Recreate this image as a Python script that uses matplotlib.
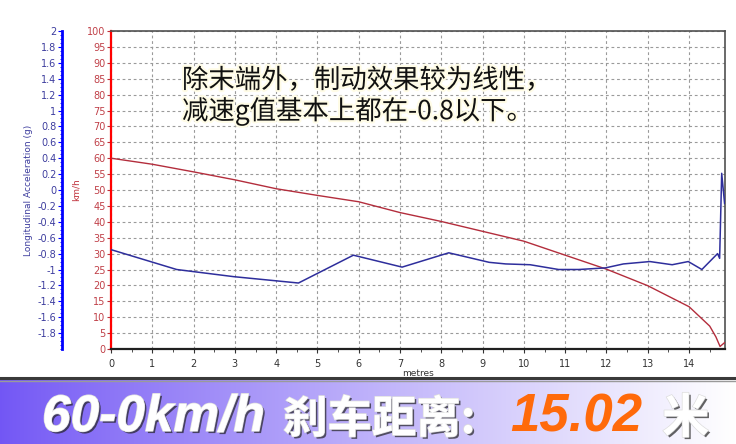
import numpy as np
import matplotlib
matplotlib.use("Agg")
import matplotlib.pyplot as plt
import matplotlib.patheffects as pe
from matplotlib.ticker import MultipleLocator, FixedLocator

plt.rcParams['font.family'] = ['DejaVu Sans', 'Noto Sans CJK SC']

# speed (km/h) against distance (m)
dist_speed = [0, 1, 2, 3, 4, 5, 6, 7, 8, 9, 10, 11, 12, 13, 14, 14.5, 14.65, 14.75, 14.86]
speed = [60, 58.1, 55.7, 53.2, 50.4, 48.3, 46.3, 42.9, 40.1, 37.0, 33.9, 29.5, 25.1, 19.9, 13.3, 7.2, 3.8, 0.8, 2.0]

# longitudinal acceleration (g) against distance (m)
dist_acc = [0, 1.59, 2.97, 4.54, 5.87, 7.05, 8.18, 9.16, 9.56, 10.15, 10.84, 11.33, 11.97,
            12.41, 13.05, 13.59, 13.98, 14.31, 14.69, 14.74, 14.79, 14.86]
acc = [-0.75, -1.0, -1.09, -1.17, -0.82, -0.97, -0.79, -0.91, -0.93, -0.94, -1.0, -1.0, -0.98,
       -0.93, -0.90, -0.94, -0.90, -1.0, -0.80, -0.86, 0.21, -0.17]

kmh_ticks = list(range(0, 101, 5))
g_ticks = [round(-1.8 + 0.2 * i, 1) for i in range(20)]
g_labels = ['%g' % t for t in g_ticks]
x_ticks = list(range(0, 15))

note = "除末端外，制动效果较为线性，\n减速g值基本上都在-0.8以下。"

W, H = 736, 444
fig = plt.figure(figsize=(W / 100, H / 100), dpi=100)
fig.patch.set_facecolor('white')

ax = fig.add_axes([111 / W, 1 - 349 / H, 614 / W, 318 / H])
ax.plot(dist_speed, speed, color='#b32d3c', lw=1.0, zorder=3)
ax.set_xlim(0, 14.87)
ax.set_ylim(0, 100)
ax.set_yticks(kmh_ticks)
ax.set_xticks(x_ticks)
ax.xaxis.set_minor_locator(MultipleLocator(0.5))
ax.grid(True, which='major', ls=(0, (2.5, 2.5)), color='#9a9a9a', lw=0.8)
ax.tick_params(axis='y', colors='#c0303a', labelcolor='#c04048', labelsize=7, length=3, width=0.8, pad=1)
ax.tick_params(axis='x', labelsize=7, length=3, width=0.8, colors='#333333', pad=4)
ax.tick_params(axis='x', which='minor', length=2, colors='#333333')
ax.set_xlabel('metres', fontsize=6.5, color='#333333', labelpad=0)
ax.set_ylabel('km/h', fontsize=6.5, color='#c0303a', labelpad=5)
ax.spines['left'].set_color('#ff0000')
ax.spines['left'].set_linewidth(1.6)
ax.spines['bottom'].set_color('#202020')
ax.spines['bottom'].set_linewidth(1.6)
for s in ('top', 'right'):
    ax.spines[s].set_color('#505050')
    ax.spines[s].set_linewidth(1.2)

ax2 = ax.twinx()
ax2.plot(dist_acc, acc, color='#2e2e9c', lw=1.1, zorder=4)
ax2.set_ylim(-2, 2)
ax2.spines['left'].set_position(('axes', -0.08))
ax2.spines['left'].set_visible(True)
ax2.spines['left'].set_color('#0000ff')
ax2.spines['left'].set_linewidth(2)
for s in ('right', 'top', 'bottom'):
    ax2.spines[s].set_visible(False)
ax2.yaxis.set_ticks_position('left')
ax2.yaxis.set_label_position('left')
ax2.yaxis.set_major_locator(FixedLocator(g_ticks))
ax2.set_yticklabels(g_labels)
ax2.yaxis.set_minor_locator(MultipleLocator(0.05))
ax2.tick_params(axis='y', colors='#0000ff', labelcolor='#3d3d9e', labelsize=7, length=3, width=0.8, pad=1)
ax2.tick_params(axis='y', which='minor', colors='#0000ff', length=1.5, width=0.6)
ax2.set_ylabel('Longitudinal Acceleration (g)', fontsize=6.5, color='#3d3d9e', labelpad=3)

fig.text(182 / W, 1 - 67 / H, note, fontsize=19, va='top', ha='left', linespacing=1.12,
         family=['Noto Sans CJK SC', 'DejaVu Sans'], color='#111111',
         path_effects=[pe.withStroke(linewidth=3, foreground='#fffce6')])

# bottom banner
bax = fig.add_axes([0, 0, 1, 65 / H])
grad = np.linspace(0, 1, 400)[None, :] ** 0.9
c0 = np.array([0.45, 0.34, 0.96])
c1 = np.array([1.0, 1.0, 1.0])
img = c0[None, None, :] * (1 - grad[..., None]) + c1[None, None, :] * grad[..., None]
bax.imshow(img, aspect='auto', extent=[0, 1, 0, 1])
bax.set_xlim(0, 1)
bax.set_ylim(0, 1)
bax.axis('off')
fig.add_artist(plt.Line2D([0, 1], [1 - 378 / H, 1 - 378 / H], color='#3a3a3a', lw=2.2))
fig.add_artist(plt.Line2D([0, 1], [1 - 380.5 / H, 1 - 380.5 / H], color='#9a9a9a', lw=1.0))

shadow = [pe.withSimplePatchShadow(offset=(1.5, -1.5), shadow_rgbFace='#222222', alpha=0.7),
          pe.withStroke(linewidth=1, foreground='#dddddd')]
base_y = 1 - 431 / H
fig.text(42 / W, base_y, '60-0km/h', fontsize=37, fontweight='bold', style='italic',
         family=['Liberation Sans', 'DejaVu Sans'], color='white', va='baseline', path_effects=shadow)
fig.text(283 / W, base_y - 0.004, '刹车距离:', fontsize=32, fontweight='heavy',
         family=['Noto Sans CJK SC', 'DejaVu Sans'], color='white', va='baseline', path_effects=shadow)
fig.text(510 / W, base_y, '15.02', fontsize=38, fontweight='bold', style='italic',
         family=['Liberation Sans', 'DejaVu Sans'], color='#ff6a0a', va='baseline')
fig.text(662 / W, base_y - 0.004, '米', fontsize=34, fontweight='heavy',
         family=['Noto Sans CJK SC', 'DejaVu Sans'], color='white', va='baseline', path_effects=shadow)

fig.savefig('out.png', dpi=100)
